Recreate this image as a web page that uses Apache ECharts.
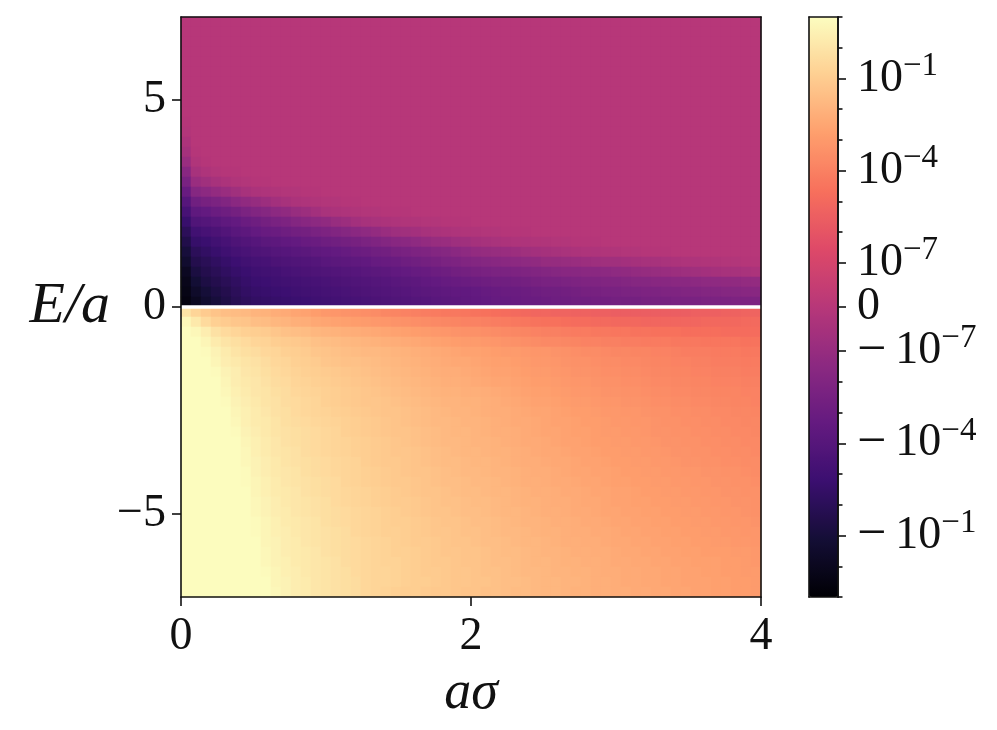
<!DOCTYPE html>
<html><head><meta charset="utf-8">
<style>html,body{margin:0;padding:0;background:#fff}#c{width:997px;height:730px}</style>
<script src="https://cdn.jsdelivr.net/npm/echarts@6/dist/echarts.min.js"></script>
</head><body><div id="c"></div>
<script>
// Values are symlog colour-scale positions in tenths of a decade:
// 0 is zero, +/-14.4 is +/-1e-7, +/-44.4 is +/-1e-4, +/-74.4 is +/-1e-1, +/-94.4 is +/-10.
// 58 columns over a-sigma 0..4, 58 rows over E/a 7..-7.
const rowsAbove = [ // from E/a = 7 down to 0; cells left out are read as zero
[],[],[],[],[],[],[],[],[],[],
[-1],
[-2],
[-5],
[-8,-1],
[-13,-3,-1],
[-21,-7,-4,-2,-1,-1],
[-28,-13,-10,-7,-5,-3,-2,-1,-1],
[-36,-22,-19,-16,-13,-10,-7,-5,-4,-3,-2,-2,-1,-1],
[-44,-32,-29,-27,-24,-20,-17,-15,-12,-9,-7,-5,-4,-3,-2,-2,-1,-1],
[-51,-40,-38,-35,-33,-30,-27,-24,-22,-19,-17,-14,-12,-9,-6,-5,-4,-3,-2,-2,-1,-1,-1],
[-58,-47,-45,-43,-40,-38,-35,-33,-30,-28,-26,-23,-21,-19,-17,-14,-12,-9,-7,-6,-5,-4,-3,-3,-2,-2,-1,-1,-1],
[-64,-54,-51,-49,-46,-43,-41,-38,-36,-35,-33,-31,-30,-28,-26,-24,-22,-20,-18,-16,-13,-11,-10,-9,-7,-6,-5,-4,-3,-3,-2,-2,-1,-1,-1],
[-69,-59,-57,-54,-51,-48,-46,-44,-42,-41,-39,-38,-36,-35,-33,-32,-30,-29,-27,-25,-23,-21,-20,-18,-16,-14,-13,-11,-10,-8,-7,-6,-5,-4,-4,-3,-3,-2,-2,-1,-1,-1],
[-74,-64,-61,-58,-55,-52,-50,-48,-47,-45,-44,-43,-42,-40,-39,-38,-37,-35,-34,-32,-31,-29,-28,-26,-25,-23,-22,-20,-18,-16,-15,-14,-13,-12,-10,-9,-8,-7,-6,-5,-4,-4,-3,-3,-2,-2,-1,-1,-1],
[-78,-68,-65,-62,-59,-56,-54,-52,-51,-49,-48,-47,-46,-45,-43,-42,-41,-40,-39,-37,-36,-35,-33,-32,-30,-29,-27,-26,-24,-23,-22,-21,-20,-19,-18,-17,-15,-15,-14,-13,-12,-11,-10,-10,-9,-8,-7,-7,-6,-5,-4,-4,-3,-3,-2,-2,-1,-1],
[-83,-72,-68,-65,-62,-59,-57,-55,-54,-53,-51,-50,-49,-48,-47,-46,-45,-44,-43,-42,-41,-39,-38,-37,-36,-34,-33,-31,-30,-29,-28,-27,-27,-26,-25,-24,-23,-22,-21,-21,-20,-20,-19,-18,-17,-16,-15,-14,-13,-12,-11,-10,-9,-8,-7,-7,-6,-5],
[-86,-76,-71,-68,-65,-62,-59,-57,-56,-55,-54,-53,-52,-51,-50,-49,-48,-47,-46,-45,-44,-43,-42,-41,-39,-38,-37,-36,-35,-34,-33,-32,-32,-31,-30,-29,-28,-28,-27,-26,-25,-25,-24,-24,-23,-22,-22,-21,-21,-20,-20,-19,-18,-18,-17,-17,-16,-16],
[-88,-80,-75,-71,-68,-64,-61,-59,-58,-57,-56,-55,-54,-53,-52,-51,-50,-49,-48,-47,-46,-45,-44,-43,-42,-41,-40,-39,-39,-38,-37,-36,-35,-35,-34,-33,-32,-32,-31,-30,-29,-29,-28,-28,-27,-27,-26,-26,-25,-25,-24,-24,-23,-23,-22,-22,-21,-21],
[-90,-84,-78,-74,-70,-66,-63,-61,-60,-59,-58,-57,-56,-55,-54,-53,-52,-51,-50,-49,-48,-47,-46,-45,-44,-43,-42,-41,-40,-39,-38,-37,-37,-36,-35,-35,-34,-33,-33,-32,-32,-31,-31,-30,-30,-30,-29,-29,-29,-28,-28,-28,-27,-27,-27,-26,-26,-26]
];
const rowsBelow = [ // from E/a = 0 down to -7
[84,78,74,71,69,68,67,65,64,62,61,59,58,56,54,53,52,51,50,49,47,46,45,44,43,42,41,41,40,39,38,37,36,35,34,33,33,32,32,31,31,30,30,29,29,29,29,29,29,29,29,30,30,30,31,31,32,32],
[92,86,80,76,74,72,71,69,68,66,65,63,62,60,59,58,57,56,55,54,53,52,51,50,49,48,47,46,45,45,44,43,42,41,40,39,38,38,37,36,36,35,35,34,34,34,33,33,33,33,33,33,34,34,34,34,35,35],
[94,92,88,83,80,78,76,75,74,72,70,69,68,66,65,64,63,62,61,60,59,58,57,56,55,54,53,52,51,51,50,49,48,47,46,45,44,44,43,42,42,41,41,40,40,39,39,38,38,38,37,37,37,37,36,36,36,36],
[94,94,91,87,84,82,80,78,77,75,74,73,72,70,69,68,67,66,65,64,63,62,61,60,59,58,57,56,55,55,54,53,52,51,50,49,48,48,47,46,45,45,44,44,43,43,42,42,42,41,41,41,40,40,40,40,39,39],
[94,94,93,90,87,84,82,81,79,78,76,75,74,72,71,70,69,68,67,67,66,65,64,63,62,61,60,59,58,58,57,56,55,55,54,53,53,52,51,50,49,49,48,47,47,46,46,45,45,44,43,43,43,42,42,42,41,41],
[94,94,94,91,88,86,84,83,81,79,78,76,75,74,72,71,70,70,69,68,67,66,65,64,63,62,61,60,60,59,58,57,57,56,55,54,54,53,52,51,51,50,49,49,48,48,47,46,46,45,45,44,44,43,43,43,42,42],
[94,94,94,93,90,88,85,84,82,80,79,77,76,75,74,73,72,71,70,69,68,67,66,65,64,63,62,62,61,60,59,58,58,57,56,55,55,54,53,52,52,51,50,50,49,49,48,47,47,46,46,45,45,44,44,44,43,43],
[94,94,94,94,91,88,86,85,83,81,80,78,77,76,75,74,73,72,71,70,69,68,67,66,65,64,63,63,62,61,60,59,59,58,57,56,56,55,54,53,53,52,51,51,50,50,49,48,48,47,47,46,46,45,45,45,44,44],
[94,94,94,94,92,89,87,85,84,82,81,79,78,77,76,75,74,73,72,71,70,69,68,67,66,65,64,64,63,63,62,61,60,59,58,57,57,56,55,54,54,53,52,52,51,51,50,49,49,48,48,47,47,46,46,46,45,45],
[94,94,94,94,93,90,88,86,84,83,81,80,79,78,76,75,74,73,72,72,71,70,69,68,67,66,65,65,64,64,63,62,61,60,59,58,58,57,56,55,55,54,53,53,52,52,51,50,50,49,49,48,48,47,47,46,46,45],
[94,94,94,94,94,91,89,87,85,83,82,80,79,78,77,76,75,74,73,72,71,71,70,69,68,67,66,65,65,64,63,62,62,61,60,59,59,58,57,56,56,55,54,54,53,53,52,51,51,50,50,49,49,48,48,47,47,46],
[94,94,94,94,94,92,89,87,86,84,82,81,80,79,78,77,76,75,74,73,72,71,70,69,68,67,67,66,65,65,64,63,62,61,61,60,59,58,58,57,56,56,55,54,54,53,53,52,51,51,50,50,49,49,48,48,47,47],
[94,94,94,94,94,93,90,88,86,84,83,82,81,80,79,78,76,75,74,73,72,71,71,70,69,68,67,66,66,65,64,63,63,62,61,60,59,59,58,57,57,56,55,55,54,54,53,52,52,51,51,50,50,49,49,48,48,47],
[94,94,94,94,94,94,91,89,87,85,83,82,81,80,79,78,77,76,75,74,73,72,71,70,69,68,67,67,66,65,65,64,63,62,61,61,60,59,58,58,57,56,56,55,55,54,54,53,52,52,51,51,50,50,49,49,48,48],
[94,94,94,94,94,94,92,89,87,85,84,83,81,80,79,78,77,76,75,74,73,72,72,71,70,69,68,67,66,66,65,64,64,63,62,61,60,60,59,58,58,57,56,56,55,55,54,54,53,52,52,51,51,50,50,49,49,48],
[94,94,94,94,94,94,92,90,88,86,84,83,82,81,80,79,78,77,75,74,73,73,72,71,70,69,68,68,67,66,66,65,64,63,62,62,61,60,60,59,58,58,57,56,56,55,55,54,54,53,52,52,51,51,50,50,49,49],
[94,94,94,94,94,94,93,90,88,86,85,84,82,81,80,79,78,77,76,75,74,73,72,71,71,70,69,68,67,67,66,65,65,64,63,62,62,61,60,59,59,58,58,57,56,56,55,55,54,54,53,53,52,52,51,51,50,49],
[94,94,94,94,94,94,93,91,89,87,85,84,83,82,81,80,78,77,76,75,74,73,73,72,71,70,69,69,68,67,67,66,65,64,63,63,62,61,61,60,59,59,58,57,57,56,56,55,55,54,54,53,53,52,52,51,51,50],
[94,94,94,94,94,94,94,91,89,87,86,85,83,82,81,80,79,78,77,76,75,74,73,72,71,71,70,69,68,68,67,66,66,65,64,63,63,62,61,61,60,59,59,58,58,57,56,56,55,55,54,54,53,53,52,52,51,51],
[94,94,94,94,94,94,94,92,90,88,86,85,84,83,82,80,79,78,77,76,75,74,74,73,72,71,70,70,69,68,68,67,66,65,64,64,63,62,62,61,60,60,59,58,58,57,57,56,56,55,55,54,54,53,53,52,52,51],
[94,94,94,94,94,94,94,92,90,88,87,85,84,83,82,81,80,79,78,77,76,75,74,73,72,71,71,70,69,69,68,67,66,66,65,64,63,63,62,61,61,60,59,59,58,58,57,57,56,56,55,55,54,54,53,53,52,51],
[94,94,94,94,94,94,94,93,91,89,87,86,85,84,82,81,80,79,78,77,76,75,75,74,73,72,71,71,70,69,69,68,67,66,65,65,64,63,63,62,61,61,60,59,59,58,58,57,57,56,56,55,55,54,54,53,53,52],
[94,94,94,94,94,94,94,93,91,89,88,86,85,84,83,82,81,79,78,77,76,76,75,74,73,72,72,71,70,70,69,68,67,67,66,65,64,64,63,62,62,61,61,60,59,59,58,58,57,57,56,56,55,55,54,54,53,53],
[94,94,94,94,94,94,94,94,91,90,88,87,85,84,83,82,81,80,79,78,77,76,75,74,74,73,72,71,71,70,69,69,68,67,66,66,65,64,63,63,62,62,61,60,60,59,59,58,58,57,57,56,56,55,55,54,54,53],
[94,94,94,94,94,94,94,94,92,90,88,87,86,85,83,82,81,80,79,78,77,76,76,75,74,73,72,72,71,71,70,69,68,68,67,66,65,65,64,63,63,62,62,61,60,60,59,59,58,58,57,57,56,56,56,55,55,54],
[94,94,94,94,94,94,94,94,92,90,89,87,86,85,84,83,81,80,79,78,77,77,76,75,74,73,73,72,71,71,70,69,69,68,67,66,66,65,64,64,63,63,62,61,61,60,60,59,59,58,58,57,57,57,56,56,55,54],
[94,94,94,94,94,94,94,94,93,91,89,88,86,85,84,83,82,80,79,78,78,77,76,75,74,74,73,72,72,71,70,70,69,68,67,67,66,65,65,64,64,63,62,62,61,61,60,60,59,59,58,58,57,57,56,56,55,55],
[94,94,94,94,94,94,94,94,94,91,90,88,87,85,84,83,82,81,79,78,78,77,76,75,75,74,73,72,72,71,71,70,69,69,68,67,66,66,65,65,64,63,63,62,61,61,60,60,59,59,58,58,58,57,57,56,56,55],
[94,94,94,94,94,94,94,94,94,92,90,88,87,85,84,83,82,81,79,78,77,76,75,75,74,73,73,72,71,71,70,70,69,68,68,67,66,66,65,64,64,63,63,62,62,61,61,60,60,59,59,58,58,57,57,56,56,55]
];
const xTicks = [0, 2, 4];
const yTicks = [-5, 0, 5];
const zeroLine = [[0, 0], [4, 0]];
const scaleMax = 94.4;
const barMajor = [74.4, 44.4, 14.4, 0, -14.4, -44.4, -74.4];
const barLabels = ['10^−1', '10^−4', '10^−7', '0', '−10^−7', '−10^−4', '−10^−1'];
const barMinor = [94.4, 84.4, 64.4, 54.4, 34.4, 24.4, -24.4, -34.4, -54.4, -64.4, -84.4, -94.4];
const magma = ['#000004','#140e36','#3b0f70','#641a80','#8c2981','#b73779','#de4968','#f7705c','#fe9f6d','#fecf92','#fcfdbf'];

const COLS = 58;
const allRows = rowsAbove.concat(rowsBelow);
const cells = [];
allRows.forEach((row, r) => {
  for (let c = 0; c < COLS; c++) cells.push([c, allRows.length - 1 - r, row[c] === undefined ? 0 : row[c]]);
});
const colIdx = Array.from({length: COLS}, (_, i) => i);
const rowIdx = allRows.map((_, i) => i);

const FONT = '"Liberation Serif"';
const INK = '#111';
const line = {show: true, onZero: false, lineStyle: {color: INK, width: 1.6}};
const ruleOnly = {axisTick: {show: false}, axisLabel: {show: false}, splitLine: {show: false}, axisLine: line};

function barLabel(v) {
  const s = barLabels[barMajor.indexOf(v)];
  if (s === undefined) return '';
  if (s === '0') return '{b|0}';
  const neg = s[0] === '−';
  const [base, exp] = (neg ? s.slice(1) : s).split('^');
  return (neg ? '{m|−}' : '') + '{b|' + base + '}{sup|' + exp + '}';
}

const chart = echarts.init(document.getElementById('c'), null, {renderer: 'canvas'});
chart.setOption({
  animation: false,
  backgroundColor: '#fff',
  grid: [
    {left: 181, top: 17, width: 580, height: 580, containLabel: false, outerBoundsMode: 'none'},
    {left: 809, top: 17, width: 29, height: 580, containLabel: false, outerBoundsMode: 'none'}
  ],
  visualMap: {
    type: 'continuous', seriesIndex: 0, min: -scaleMax, max: scaleMax,
    left: 809, top: 17, itemWidth: 29, itemHeight: 580, padding: 0,
    calculable: false, realtime: false, hoverLink: false, text: null, showLabel: false,
    inRange: {color: magma}, z: 2
  },
  xAxis: [
    {type: 'category', gridIndex: 0, data: colIdx, show: false},
    {type: 'value', gridIndex: 0, min: 0, max: 4, position: 'bottom', z: 6,
      axisLine: line, splitLine: {show: false},
      axisTick: {show: true, length: 9, lineStyle: {color: INK, width: 1.6}, customValues: xTicks},
      axisLabel: {show: true, customValues: xTicks, margin: 17, fontFamily: FONT, fontSize: 46, color: INK, hideOverlap: false, showMinLabel: true, showMaxLabel: true},
      name: 'aσ', nameLocation: 'middle', nameGap: 70,
      nameTextStyle: {fontFamily: FONT, fontStyle: 'italic', fontSize: 54, color: INK}},
    Object.assign({type: 'value', gridIndex: 0, min: 0, max: 4, position: 'top', z: 6}, ruleOnly),
    Object.assign({type: 'value', gridIndex: 1, min: 0, max: 1, position: 'top', z: 6}, ruleOnly),
    Object.assign({type: 'value', gridIndex: 1, min: 0, max: 1, position: 'bottom', z: 6}, ruleOnly)
  ],
  yAxis: [
    {type: 'category', gridIndex: 0, data: rowIdx, show: false},
    {type: 'value', gridIndex: 0, min: -7, max: 7, position: 'left', z: 6,
      axisLine: line, splitLine: {show: false},
      axisTick: {show: true, length: 9, lineStyle: {color: INK, width: 1.6}, customValues: yTicks},
      axisLabel: {show: true, customValues: yTicks, margin: 15, fontFamily: FONT, fontSize: 46, color: INK,
        formatter: v => String(v).replace('-', '−')},
      name: 'E/a', nameLocation: 'middle', nameRotate: 0, nameGap: 71,
      nameTextStyle: {fontFamily: FONT, fontStyle: 'italic', fontSize: 58, color: INK}},
    Object.assign({type: 'value', gridIndex: 0, min: -7, max: 7, position: 'right', z: 6}, ruleOnly),
    Object.assign({type: 'value', gridIndex: 1, min: -scaleMax, max: scaleMax, position: 'left', z: 6}, ruleOnly),
    {type: 'value', gridIndex: 1, min: -scaleMax, max: scaleMax, position: 'right', z: 6,
      axisLine: line, splitLine: {show: false},
      axisTick: {show: true, length: 4.5, lineStyle: {color: INK, width: 1.6}, customValues: barMinor},
      axisLabel: {show: false}},
    {type: 'value', gridIndex: 1, min: -scaleMax, max: scaleMax, position: 'right', z: 6,
      axisLine: line, splitLine: {show: false},
      axisTick: {show: true, length: 8, lineStyle: {color: INK, width: 1.6}, customValues: barMajor},
      axisLabel: {show: true, customValues: barMajor, margin: 19, align: 'left', color: INK, fontFamily: FONT,
        formatter: barLabel,
        rich: {
          b: {fontFamily: FONT, fontSize: 46, lineHeight: 58, color: INK},
          m: {fontFamily: FONT, fontSize: 52, lineHeight: 58, color: INK, padding: [0, 9, 0, 0]},
          sup: {fontFamily: FONT, fontSize: 33, lineHeight: 33, verticalAlign: 'top', color: INK}
        }}}
  ],
  series: [
    {type: 'heatmap', xAxisIndex: 0, yAxisIndex: 0, data: cells, progressive: 0, silent: true, z: 1},
    {type: 'line', xAxisIndex: 1, yAxisIndex: 1, data: zeroLine, showSymbol: false, silent: true, z: 4,
      lineStyle: {color: '#fff', width: 3.5}}
  ]
});
</script></body></html>
